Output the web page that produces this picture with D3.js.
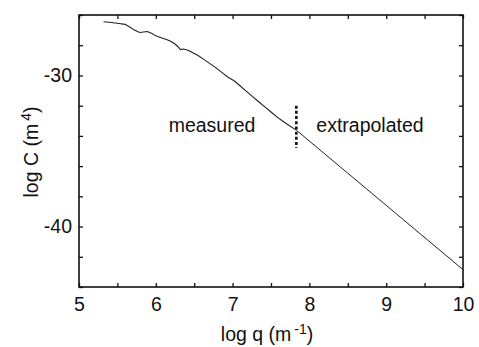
<!DOCTYPE html>
<html>
<head>
<meta charset="utf-8">
<script src="https://cdn.jsdelivr.net/npm/d3@7"></script>
<style>
  body { margin: 0; background: #fff; }
  svg { display: block; font-family: "Liberation Sans", Arial, Helvetica, sans-serif; }
</style>
</head>
<body>
<svg id="chart"></svg>
<script>
var width = 479;
var height = 347;
var margin = { top: 15, right: 16, bottom: 60, left: 79 };

// measured part of the spectrum (log q, log C)
var measuredQ = [5.32, 5.42, 5.52, 5.60, 5.66, 5.72, 5.79, 5.84, 5.89, 5.95, 6.00, 6.07, 6.14,
  6.20, 6.25, 6.29, 6.32, 6.36, 6.42, 6.47, 6.55, 6.62, 6.70, 6.78, 6.86, 6.94, 7.02, 7.10,
  7.18, 7.26, 7.34, 7.42, 7.50, 7.58, 7.66, 7.74, 7.83];
var measuredC = [-26.45, -26.50, -26.56, -26.62, -26.80, -27.00, -27.16, -27.12, -27.09, -27.22,
  -27.38, -27.50, -27.62, -27.76, -27.92, -28.10, -28.29, -28.25, -28.33, -28.47, -28.68, -28.92,
  -29.20, -29.48, -29.80, -30.12, -30.35, -30.70, -31.05, -31.40, -31.74, -32.08, -32.42, -32.76,
  -33.05, -33.33, -33.62];

// extrapolated straight line
var extrapQ = [7.83, 10];
var extrapC = [-33.62, -42.85];

// dotted marker between the two parts
var splitQ = 7.83;
var splitC = [-32.0, -34.8];

var xTicks = d3.range(5, 10.01, 0.5);
var yTicks = d3.range(-44, -25, 2);
var xLabels = [5, 6, 7, 8, 9, 10];
var yLabels = [-30, -40];

var svg = d3.select("#chart").attr("width", width).attr("height", height);

var x = d3.scaleLinear().domain([5, 10]).range([margin.left, width - margin.right]);
var y = d3.scaleLinear().domain([-44, -26]).range([height - margin.bottom, margin.top]);

var fontSize = "19.5px";

// axes with inward ticks
var xFmt = function (d) { return xLabels.indexOf(d) >= 0 ? String(d) : ""; };
var yFmt = function (d) { return yLabels.indexOf(d) >= 0 ? String(d) : ""; };

function styleAxis(g) {
  g.select(".domain").remove();
  g.selectAll(".tick line").attr("stroke", "#111").attr("stroke-width", 1.3);
  g.selectAll(".tick text").attr("fill", "#111").style("font-size", fontSize)
    .style("font-family", "\"Liberation Sans\", Arial, sans-serif");
}

svg.append("g")
  .attr("transform", "translate(0," + y(-44) + ")")
  .call(d3.axisBottom(x).tickValues(xTicks).tickFormat(xFmt).tickSizeInner(-4).tickSizeOuter(0).tickPadding(10))
  .call(styleAxis);

svg.append("g")
  .attr("transform", "translate(0," + y(-26) + ")")
  .call(d3.axisTop(x).tickValues(xTicks).tickFormat("").tickSizeInner(-4).tickSizeOuter(0))
  .call(styleAxis);

svg.append("g")
  .attr("transform", "translate(" + x(5) + ",0)")
  .call(d3.axisLeft(y).tickValues(yTicks).tickFormat(yFmt).tickSizeInner(-4).tickSizeOuter(0).tickPadding(7))
  .call(styleAxis);

svg.append("g")
  .attr("transform", "translate(" + x(10) + ",0)")
  .call(d3.axisRight(y).tickValues(yTicks).tickFormat("").tickSizeInner(-4).tickSizeOuter(0))
  .call(styleAxis);

// frame
svg.append("rect")
  .attr("x", x(5)).attr("y", y(-26))
  .attr("width", x(10) - x(5)).attr("height", y(-44) - y(-26))
  .attr("fill", "none").attr("stroke", "#111").attr("stroke-width", 1.6);

var line = d3.line()
  .x(function (d) { return x(d[0]); })
  .y(function (d) { return y(d[1]); });

var measured = measuredQ.map(function (q, i) { return [q, measuredC[i]]; });
var extrap = extrapQ.map(function (q, i) { return [q, extrapC[i]]; });

svg.append("path").datum(measured)
  .attr("d", line).attr("fill", "none").attr("stroke", "#222").attr("stroke-width", 1.1);

svg.append("path").datum(extrap)
  .attr("d", line).attr("fill", "none").attr("stroke", "#222").attr("stroke-width", 1);

svg.append("line")
  .attr("x1", x(splitQ)).attr("x2", x(splitQ))
  .attr("y1", y(splitC[0])).attr("y2", y(splitC[1]))
  .attr("stroke", "#111").attr("stroke-width", 2.6).attr("stroke-dasharray", "3,2.2");

// labels inside the plot
svg.append("text")
  .attr("x", 212).attr("y", 132)
  .attr("text-anchor", "middle").style("font-size", fontSize).attr("fill", "#111")
  .text("measured");

svg.append("text")
  .attr("x", 370).attr("y", 132)
  .attr("text-anchor", "middle").style("font-size", fontSize).attr("fill", "#111")
  .text("extrapolated");

// axis titles
var xt = svg.append("text")
  .attr("x", 267).attr("y", 341)
  .attr("text-anchor", "middle").style("font-size", fontSize).attr("fill", "#111");
xt.append("tspan").text("log q (m");
xt.append("tspan").attr("dx", 3).attr("dy", -7).style("font-size", "14px").text("-1");
xt.append("tspan").attr("dy", 7).text(")");

var yt = svg.append("text")
  .attr("transform", "translate(37.5," + 152 + ") rotate(-90)")
  .attr("text-anchor", "middle").style("font-size", fontSize).attr("fill", "#111");
yt.append("tspan").text("log C (m");
yt.append("tspan").attr("dx", 3).attr("dy", -7).style("font-size", "14px").text("4");
yt.append("tspan").attr("dy", 7).text(")");
</script>
</body>
</html>
